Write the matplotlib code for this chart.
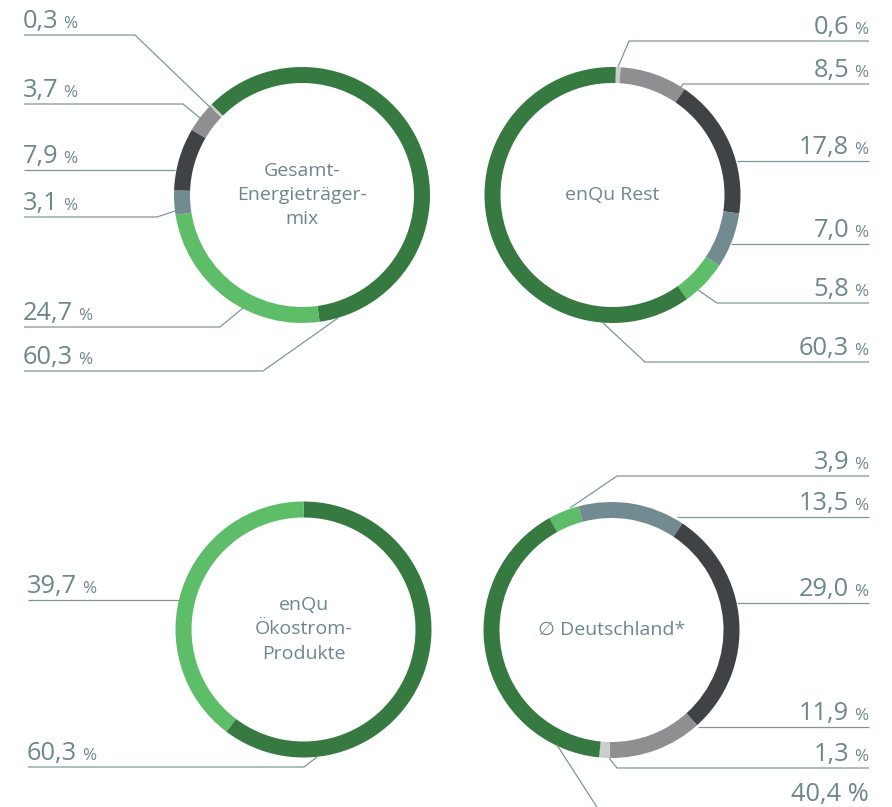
import matplotlib
matplotlib.use("Agg")
import matplotlib.pyplot as plt

plt.rcParams['font.family'] = ['Open Sans', 'DejaVu Sans']

W, H = 892, 807

# Farben
DKGREEN = "#367a41"
LTGREEN = "#5ebd69"
GREYBLUE = "#728b90"
DKGREY = "#3f4346"
MIDGREY = "#8f8f91"
LTGREY = "#c9cfcc"
TXT = "#6d878c"
LINE = "#7e969a"

# Daten (Anteile in %)
gesamt_vals = [60.3, 24.7, 3.1, 7.9, 3.7, 0.3]
gesamt_cols = [DKGREEN, LTGREEN, GREYBLUE, DKGREY, MIDGREY, LTGREY]

rest_vals = [0.6, 8.5, 17.8, 7.0, 5.8, 60.3]
rest_cols = [LTGREY, MIDGREY, DKGREY, GREYBLUE, LTGREEN, DKGREEN]

oeko_vals = [60.3, 39.7]
oeko_cols = [DKGREEN, LTGREEN]

de_vals = [3.9, 13.5, 29.0, 11.9, 1.3, 40.4]
de_cols = [LTGREEN, GREYBLUE, DKGREY, MIDGREY, LTGREY, DKGREEN]

titles = ["Gesamt-\nEnergieträger-\nmix", "enQu Rest", "enQu\nÖkostrom-\nProdukte", "\u2205 Deutschland*"]

# Layout: (werte, farben, zentrum, start im uhrzeigersinn ab 12 Uhr)
donuts = [
    (gesamt_vals, gesamt_cols, (302, 195), 315),
    (rest_vals, rest_cols, (612.5, 195), 1.5),
    (oeko_vals, oeko_cols, (303.5, 629.5), 0),
    (de_vals, de_cols, (611.5, 630), 331),
]
R, RW = 128, 16
NUM_FS, PCT_FS = 18.3, 12.3

# Beschriftungen: (wert, linie_y, knick_x, ankerpunkt)
left_top = [(0.3, 35, 135, (213, 110)), (3.7, 104, 183, (200, 118)), (7.9, 170, 175, None),
            (3.1, 217, 157, (175, 211)), (24.7, 327, 220, (243, 308)), (60.3, 371, 263, (338, 318))]
right_top = [(0.6, 41, 629, (618, 67)), (8.5, 84, 683, (679, 90)), (17.8, 161, 737, None),
             (7.0, 244, 731, None), (5.8, 303, 717, (698, 290)), (60.3, 362, 645, (602, 322))]
left_bot = [(39.7, 600, 180, None), (60.3, 767, 304, (317, 757))]
right_bot = [(3.9, 476, 617, (570, 508)), (13.5, 517, 677, None), (29.0, 603, 737, None),
             (11.9, 727, 698, None), (1.3, 768, 617, (609, 758))]

fig = plt.figure(figsize=(W / 100, H / 100), dpi=100)
ax = fig.add_axes([0, 0, 1, 1])

for (vals, cols, c, start), title in zip(donuts, titles):
    ax.pie(vals, colors=cols, center=c, radius=R, startangle=-90 + start, counterclock=True,
           wedgeprops=dict(width=RW, linewidth=0), frame=True)
    ax.text(c[0], c[1], title, ha='center', va='center', fontsize=14, color=TXT,
            linespacing=1.45, family=['Open Sans', 'DejaVu Sans'])


def fmt(v):
    return f"{v:.1f}".replace(".", ",")


def left_label(v, ly, ex, anchor, x0):
    xs, ys = [x0, ex], [ly, ly]
    if anchor is not None:
        xs.append(anchor[0]); ys.append(anchor[1])
    ax.plot(xs, ys, color=LINE, lw=0.9, solid_capstyle='butt')
    t = ax.text(x0 - 1, ly - 7, fmt(v), ha='left', va='baseline', fontsize=NUM_FS, color=TXT)
    ax.annotate("%", xy=(1, 0), xycoords=t, xytext=(3.5, 1.5), textcoords='offset points',
                ha='left', va='bottom', fontsize=PCT_FS, color=TXT)


def right_label(v, ly, ex, anchor, x1):
    xs, ys = [x1, ex], [ly, ly]
    if anchor is not None:
        xs.append(anchor[0]); ys.append(anchor[1])
    ax.plot(xs, ys, color=LINE, lw=0.9, solid_capstyle='butt')
    p = ax.text(x1 - 1, ly - 7, "%", ha='right', va='baseline', fontsize=PCT_FS, color=TXT)
    ax.annotate(fmt(v), xy=(0, 0), xycoords=p, xytext=(-3.5, -1.5), textcoords='offset points',
                ha='right', va='bottom', fontsize=NUM_FS, color=TXT)


for lab in left_top:
    left_label(*lab, 24)
for lab in left_bot:
    left_label(*lab, 28)
for lab in right_top:
    right_label(*lab, 869)
for lab in right_bot:
    right_label(*lab, 869)

# 40,4 % unten rechts (Linie läuft aus dem Bild)
ax.plot([557, 602, 869], [745, 815, 815], color=LINE, lw=0.9)
ax.text(869, 801, fmt(40.4) + " %", ha='right', va='baseline', fontsize=NUM_FS, color=TXT)

ax.set_xlim(0, W)
ax.set_ylim(H, 0)
ax.set_aspect('equal')
ax.axis('off')

fig.savefig("out.png", dpi=100)
